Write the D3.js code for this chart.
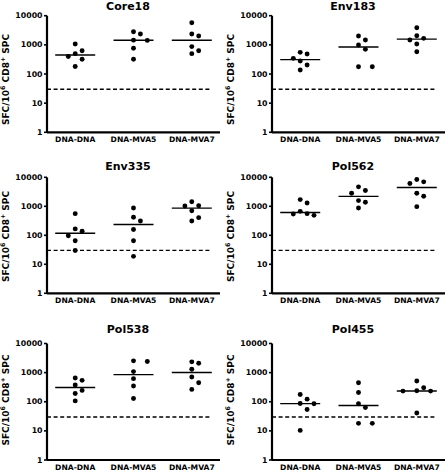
<!DOCTYPE html>
<html>
<head>
<meta charset="utf-8">
<script src="https://cdn.jsdelivr.net/npm/d3@7"></script>
<style>
  html, body { margin: 0; padding: 0; background: #fff; }
  svg { display: block; }
  text { font-family: "DejaVu Sans", "Liberation Sans", sans-serif; font-weight: bold; fill: #000; }
</style>
</head>
<body>
<script>
// ---------- data ----------
const panelNames = ["Core18", "Env183", "Env335", "Pol562", "Pol538", "Pol455"];
const groups = ["DNA-DNA", "DNA-MVA5", "DNA-MVA7"];
const yTicks = [1, 10, 100, 1000, 10000];
const cutoff = 30;

const core18 = [
  [1070, 630, 500, 400, 320, 180],
  [2820, 2350, 1450, 1420, 760, 320],
  [5750, 2350, 2000, 870, 630, 500]
];
const env183 = [
  [553, 485, 344, 279, 204, 137],
  [2010, 1465, 986, 701, 178, 178],
  [3880, 2063, 1671, 1465, 1069, 583]
];
const env335 = [
  [557, 166, 138, 96, 65, 30],
  [870, 418, 313, 158, 65, 18.8],
  [1433, 1045, 1019, 705, 406, 313]
];
const pol562 = [
  [1703, 1305, 671, 557, 542, 488],
  [4690, 3494, 2826, 1573, 1377, 875],
  [8410, 6980, 6110, 2826, 2222, 974]
];
const pol538 = [
  [654, 543, 374, 245, 193, 107],
  [2535, 2404, 1083, 620, 346, 129],
  [2340, 2105, 1303, 708, 451, 265]
];
const pol455 = [
  [178, 123, 87, 85, 54, 10.4],
  [451, 209, 85, 63, 18.1, 18.1],
  [515, 303, 238, 232, 232, 41]
];
const panelData = [core18, env183, env335, pol562, pol538, pol455];

// ---------- layout ----------
const W = 448, H = 472;
const colX = [47, 272];           // y-axis x position per column
const axisLen = 173;
const rows = [
  { top: 15.7, bottom: 132.3, titleY: 9.8, yTitleCY: 79.5 },
  { top: 177.3, bottom: 293.3, titleY: 170.3, yTitleCY: 236.5 },
  { top: 343.5, bottom: 460, titleY: 333.3, yTitleCY: 400 }
];
const slotStep = 6.9, minDist = 7, dotR = 2.45, medHalf = 20;

const svg = d3.select("body").append("svg")
  .attr("width", W).attr("height", H)
  .attr("viewBox", `0 0 ${W} ${H}`);
svg.append("rect").attr("width", W).attr("height", H).attr("fill", "#fff");

function swarm(vals, y) {
  const pts = vals.map(v => ({ v, y: y(v) })).sort((a, b) => a.y - b.y);
  const placed = [];
  const order = [0, 1, -1, 2, -2, 3, -3];
  pts.forEach(p => {
    for (const s of order) {
      const ok = placed.every(q => Math.hypot((q.s - s) * slotStep, q.y - p.y) >= minDist);
      if (ok) { p.s = s; break; }
    }
    placed.push(p);
  });
  return pts;
}

panelNames.forEach((name, pi) => {
  const r = rows[Math.floor(pi / 2)];
  const x0 = colX[pi % 2];
  const data = panelData[pi];

  const y = d3.scaleLog().domain([yTicks[0], yTicks[yTicks.length - 1]]).range([r.bottom, r.top]);
  const x = d3.scalePoint().domain(groups).range([x0, x0 + axisLen]).padding(0.484).align(0.5);

  const g = svg.append("g");

  // cutoff dashed line
  g.append("line")
    .attr("x1", x0).attr("x2", x0 + axisLen - 9)
    .attr("y1", y(cutoff)).attr("y2", y(cutoff))
    .attr("stroke", "#000").attr("stroke-width", 1.3)
    .attr("stroke-dasharray", "4,2.6");

  // y axis
  const ya = g.append("g").attr("transform", `translate(${x0},0)`)
    .call(d3.axisLeft(y).tickValues(yTicks).tickFormat(d => String(d))
      .tickSize(3).tickSizeOuter(0).tickPadding(1.5).offset(0));
  ya.select(".domain").attr("stroke", "#000").attr("stroke-width", 2.2);
  ya.selectAll(".tick line").attr("stroke", "#000").attr("stroke-width", 1.6);
  ya.selectAll(".tick text").attr("font-size", 7.8).attr("font-family", null).attr("fill", "#000");

  // x axis
  const xa = g.append("g").attr("transform", `translate(0,${r.bottom})`)
    .call(d3.axisBottom(x).tickSize(0).tickSizeOuter(0).tickPadding(4.8).offset(0));
  xa.select(".domain").attr("stroke", "#000").attr("stroke-width", 2.2);
  xa.selectAll(".tick text").attr("font-size", 7.6).attr("font-family", null).attr("fill", "#000");

  // title
  g.append("text")
    .attr("x", x0 + 81).attr("y", r.titleY)
    .attr("text-anchor", "middle").attr("font-size", 11)
    .text(name);

  // y-axis title
  const yt = g.append("text")
    .attr("transform", `translate(${x0 - 38.5},${r.yTitleCY}) rotate(-90)`)
    .attr("text-anchor", "middle").attr("font-size", 9);
  yt.append("tspan").text("SFC/10");
  yt.append("tspan").attr("font-size", 6.3).attr("dy", -3.4).text("6");
  yt.append("tspan").attr("dy", 3.4).text(" CD8");
  yt.append("tspan").attr("font-size", 6.3).attr("dy", -3.4).text("+");
  yt.append("tspan").attr("dy", 3.4).text(" SPC");

  // dots + medians
  groups.forEach((grp, gi) => {
    const vals = data[gi];
    const cx = x(grp);
    const pts = swarm(vals, y);
    g.append("g").selectAll("circle").data(pts).join("circle")
      .attr("cx", d => cx + d.s * slotStep)
      .attr("cy", d => d.y)
      .attr("r", dotR)
      .attr("fill", "#000");
    const med = d3.median(vals);
    g.append("line")
      .attr("x1", cx - medHalf).attr("x2", cx + medHalf)
      .attr("y1", y(med)).attr("y2", y(med))
      .attr("stroke", "#000").attr("stroke-width", 1.4);
  });
});
</script>
</body>
</html>
